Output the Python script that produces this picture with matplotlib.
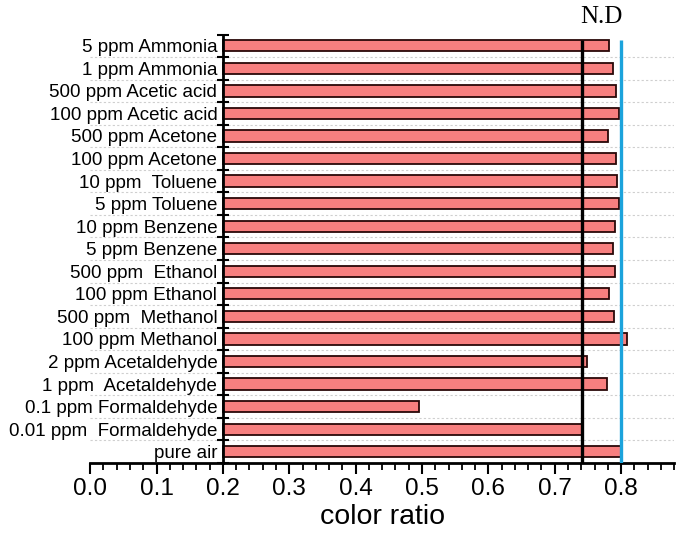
import numpy as np
import matplotlib.pyplot as plt
from matplotlib.ticker import MultipleLocator

plt.rcParams['font.family'] = ['Liberation Sans', 'DejaVu Sans']

# bottom to top
labels = ['pure air', '0.01 ppm  Formaldehyde', '0.1 ppm Formaldehyde',
          '1 ppm  Acetaldehyde', '2 ppm Acetaldehyde', '100 ppm Methanol',
          '500 ppm  Methanol', '100 ppm Ethanol', '500 ppm  Ethanol',
          '5 ppm Benzene', '10 ppm Benzene', '5 ppm Toluene', '10 ppm  Toluene',
          '100 ppm Acetone', '500 ppm Acetone', '100 ppm Acetic acid',
          '500 ppm Acetic acid', '1 ppm Ammonia', '5 ppm Ammonia']
ratios = [0.800, 0.741, 0.496, 0.779, 0.749, 0.809, 0.789, 0.782, 0.791,
          0.788, 0.791, 0.797, 0.794, 0.792, 0.780, 0.797, 0.792, 0.788, 0.782]
base = 0.2
black_line = 0.741
nd_line = 0.80

fig = plt.figure(figsize=(6.88, 5.4), dpi=100)
ax = fig.add_axes([0.131, 0.1426, 0.849, 0.7935])

y = np.arange(len(labels))
ax.barh(y, np.array(ratios) - base, left=base, height=0.5,
        color='#F77F7F', edgecolor='#2a0808', linewidth=1.3, zorder=2)

# dotted separators
ax.hlines(y[:-1] + 0.5, 0, 0.88, colors='#cfcfcf', linestyles=(0, (2, 2)),
          linewidth=0.8, zorder=0)

ax.vlines(black_line, -0.5, 18.25, colors='black', linewidth=2.4, zorder=3)
ax.vlines(nd_line, -0.5, 18.25, colors='#1BA3DC', linewidth=2.4, zorder=3)
ax.text(0.77, 1.015, 'N.D', transform=ax.get_xaxis_transform(),
        ha='center', va='bottom', fontsize=18, family='Liberation Serif')

ax.set_xlim(0, 0.88)
ax.set_ylim(-0.5, len(labels) - 0.5)

for s in ['top', 'right']:
    ax.spines[s].set_visible(False)
ax.spines['left'].set_position(('data', base))
ax.spines['left'].set_linewidth(2)
ax.spines['bottom'].set_linewidth(2)

ax.xaxis.set_minor_locator(MultipleLocator(0.02))
ticks = np.arange(0, 0.81, 0.1)
ax.set_xticks(ticks)
ax.set_xticklabels(['%.1f' % v for v in ticks])
ax.tick_params(axis='x', which='major', length=8, width=1.5, labelsize=17.5,
               direction='out', pad=3)
ax.tick_params(axis='x', which='minor', length=5, width=1.3, direction='out')

ax.set_yticks(y)
ax.set_yticklabels(labels)
ax.set_yticks(np.arange(-0.5, len(labels)), minor=True)
ax.tick_params(axis='y', which='major', length=0, labelsize=13.5, pad=4)
ax.tick_params(axis='y', which='minor', length=9, width=1.5, direction='inout')

ax.set_xlabel('color ratio', fontsize=20.5, labelpad=3)

fig.savefig('out.png', dpi=100)
